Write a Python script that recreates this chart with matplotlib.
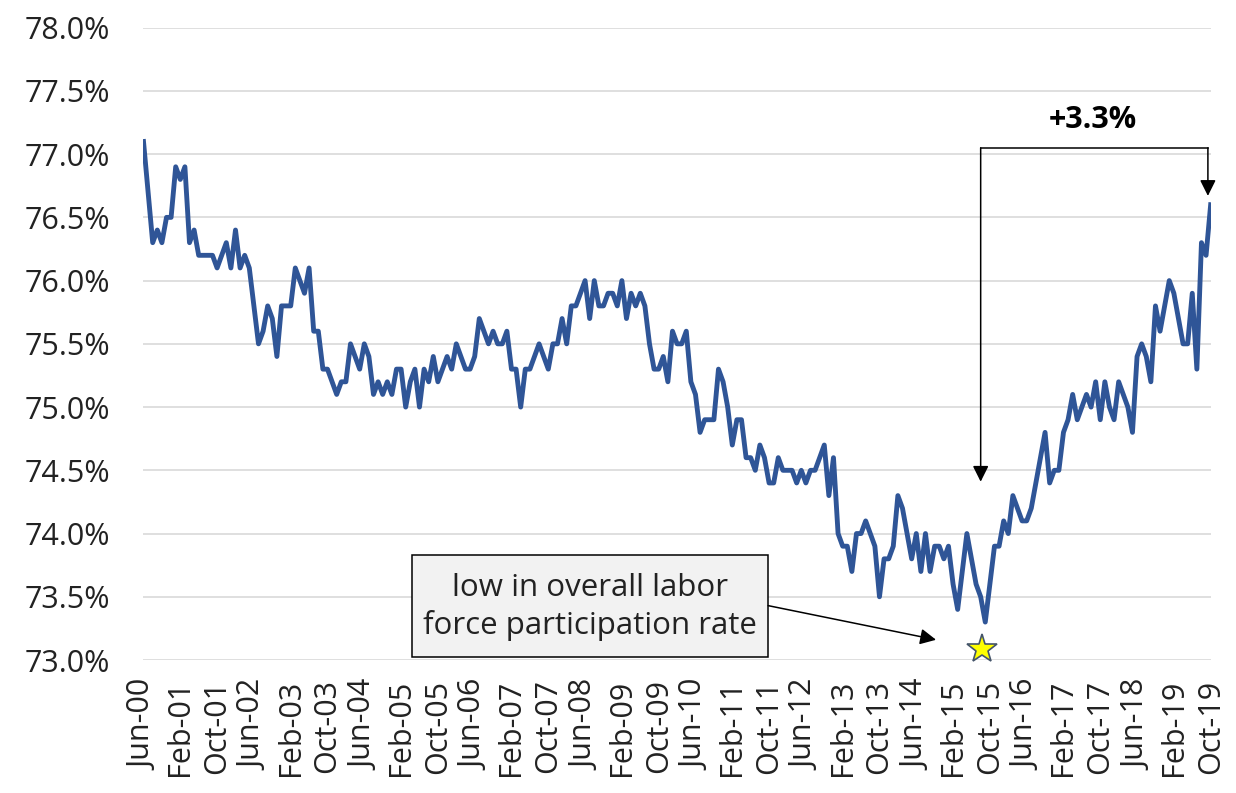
import matplotlib
matplotlib.use("Agg")
import matplotlib.pyplot as plt
from matplotlib.patches import Rectangle

plt.rcParams['font.family'] = ['Open Sans', 'DejaVu Sans']

# Monthly values, Jun-2000 .. Oct-2019 (percent)
rate = [
    77.1, 76.7, 76.3, 76.4, 76.3, 76.5, 76.5, 76.9, 76.8, 76.9,
    76.3, 76.4, 76.2, 76.2, 76.2, 76.2, 76.1, 76.2, 76.3, 76.1,
    76.4, 76.1, 76.2, 76.1, 75.8, 75.5, 75.6, 75.8, 75.7, 75.4,
    75.8, 75.8, 75.8, 76.1, 76.0, 75.9, 76.1, 75.6, 75.6, 75.3,
    75.3, 75.2, 75.1, 75.2, 75.2, 75.5, 75.4, 75.3, 75.5, 75.4,
    75.1, 75.2, 75.1, 75.2, 75.1, 75.3, 75.3, 75.0, 75.2, 75.3,
    75.0, 75.3, 75.2, 75.4, 75.2, 75.3, 75.4, 75.3, 75.5, 75.4,
    75.3, 75.3, 75.4, 75.7, 75.6, 75.5, 75.6, 75.5, 75.5, 75.6,
    75.3, 75.3, 75.0, 75.3, 75.3, 75.4, 75.5, 75.4, 75.3, 75.5,
    75.5, 75.7, 75.5, 75.8, 75.8, 75.9, 76.0, 75.7, 76.0, 75.8,
    75.8, 75.9, 75.9, 75.8, 76.0, 75.7, 75.9, 75.8, 75.9, 75.8,
    75.5, 75.3, 75.3, 75.4, 75.2, 75.6, 75.5, 75.5, 75.6, 75.2,
    75.1, 74.8, 74.9, 74.9, 74.9, 75.3, 75.2, 75.0, 74.7, 74.9,
    74.9, 74.6, 74.6, 74.5, 74.7, 74.6, 74.4, 74.4, 74.6, 74.5,
    74.5, 74.5, 74.4, 74.5, 74.4, 74.5, 74.5, 74.6, 74.7, 74.3,
    74.6, 74.0, 73.9, 73.9, 73.7, 74.0, 74.0, 74.1, 74.0, 73.9,
    73.5, 73.8, 73.8, 73.9, 74.3, 74.2, 74.0, 73.8, 74.0, 73.7,
    74.0, 73.7, 73.9, 73.9, 73.8, 73.9, 73.6, 73.4, 73.7, 74.0,
    73.8, 73.6, 73.5, 73.3, 73.6, 73.9, 73.9, 74.1, 74.0, 74.3,
    74.2, 74.1, 74.1, 74.2, 74.4, 74.6, 74.8, 74.4, 74.5, 74.5,
    74.8, 74.9, 75.1, 74.9, 75.0, 75.1, 75.0, 75.2, 74.9, 75.2,
    75.0, 74.9, 75.2, 75.1, 75.0, 74.8, 75.4, 75.5, 75.4, 75.2,
    75.8, 75.6, 75.8, 76.0, 75.9, 75.7, 75.5, 75.5, 75.9, 75.3,
    76.3, 76.2, 76.6,
]

tick_labels = [
    "Jun-00", "Feb-01", "Oct-01", "Jun-02", "Feb-03", "Oct-03", "Jun-04",
    "Feb-05", "Oct-05", "Jun-06", "Feb-07", "Oct-07", "Jun-08", "Feb-09",
    "Oct-09", "Jun-10", "Feb-11", "Oct-11", "Jun-12", "Feb-13", "Oct-13",
    "Jun-14", "Feb-15", "Oct-15", "Jun-16", "Feb-17", "Oct-17", "Jun-18",
    "Feb-19", "Oct-19",
]
y_ticks = [73.0, 73.5, 74.0, 74.5, 75.0, 75.5, 76.0, 76.5, 77.0, 77.5, 78.0]

low_idx = rate.index(min(rate))
last_idx = len(rate) - 1
change_label = "+3.3%"
box_text = "low in overall labor\nforce participation rate"

fig = plt.figure(figsize=(12.36, 7.93), dpi=100)
ax = fig.add_axes([0.1161, 0.1677, 0.8634, 0.7974])

x = list(range(len(rate)))
ax.plot(x, rate, color="#2F5597", lw=3.5, solid_joinstyle="round", zorder=3)

ax.set_xlim(0, last_idx)
ax.set_ylim(73.0, 78.0)
ax.set_yticks(y_ticks)
ax.set_yticklabels([f"{v:.1f}%" for v in y_ticks])
ax.set_xticks(list(range(0, len(rate), 8)))
ax.set_xticklabels(tick_labels, rotation=90)

ax.grid(axis="y", color="#d9d9d9", lw=1.2, zorder=0)
ax.grid(axis="x", visible=False)
for s in ax.spines.values():
    s.set_visible(False)
ax.tick_params(axis="both", length=0, labelsize=22, colors="#222222")
ax.tick_params(axis="y", pad=24)
ax.tick_params(axis="x", pad=14)

# Star at the low
ax.plot([low_idx - 0.8], [73.09], marker="*", markersize=22, markerfacecolor="#FFFF00",
        markeredgecolor="#44546A", markeredgewidth=1.2, clip_on=False, zorder=6)

# Bracket arrow
bx0 = low_idx - 1.0
bx1 = last_idx - 0.6
btop = 77.05
arrow_kw = dict(arrowstyle="-|>", color="black", lw=1.1, mutation_scale=24,
                shrinkA=0, shrinkB=0)
ax.plot([bx0, bx1], [btop, btop], color="black", lw=1.1, zorder=5)
ax.annotate("", xy=(bx0, 74.41), xytext=(bx0, btop), arrowprops=arrow_kw, zorder=5)
ax.annotate("", xy=(bx1, 76.67), xytext=(bx1, btop), arrowprops=arrow_kw, zorder=5)
ax.text(206.4, 77.27, change_label, fontsize=22, fontweight="bold", ha="center", va="center",
        color="black", zorder=6)

# Callout box
ax.add_patch(Rectangle((58.4, 73.02), 135.8 - 58.4, 73.83 - 73.02, facecolor="#f2f2f2",
                       edgecolor="black", lw=1.1, zorder=4))
ax.text(97.1, 73.42, box_text, fontsize=22.5, ha="center", va="center", color="#222222",
        linespacing=1.3, zorder=5)
ax.annotate("", xy=(172.3, 73.16), xytext=(135.8, 73.43), arrowprops=arrow_kw, zorder=5)

fig.savefig("out.png", dpi=100)
